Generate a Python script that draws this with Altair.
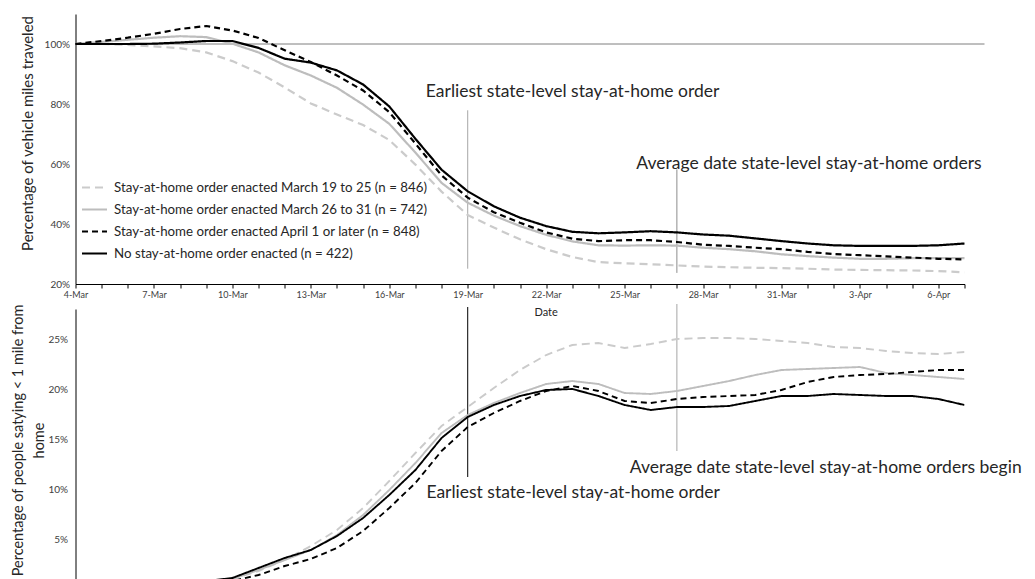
import json
import altair as alt
import pandas as pd

# ---------------- data ----------------
day_index = list(range(35))  # 0 = 4-Mar ... 34 = 7-Apr
tick_days = list(range(0, 34, 3))
tick_labels = ["4-Mar", "7-Mar", "10-Mar", "13-Mar", "16-Mar", "19-Mar",
               "22-Mar", "25-Mar", "28-Mar", "31-Mar", "3-Apr", "6-Apr"]

series_names = [
    "Stay-at-home order enacted March 19 to 25 (n = 846)",
    "Stay-at-home order enacted March 26 to 31 (n = 742)",
    "Stay-at-home order enacted April 1 or later (n = 848)",
    "No stay-at-home order enacted (n = 422)",
]
series_colors = ["#cbcbcb", "#bdbdbd", "#000000", "#000000"]
series_dashes = [[8, 5], [1, 0], [6, 4], [1, 0]]

# Percentage of vehicle miles traveled
vmt_mar19_25 = [100, 100, 99.7, 99.2, 98.6, 97.2, 94.3, 90.5, 85.5, 80.2, 76.5, 73.0,
                68.0, 59.8, 50.8, 43.0, 38.8, 34.9, 31.6, 29.0, 27.3, 26.9, 26.6, 26.2,
                25.8, 25.6, 25.4, 25.3, 25.1, 24.8, 24.7, 24.6, 24.5, 24.3, 23.9]
vmt_mar26_31 = [100, 100.7, 101.4, 102.1, 102.6, 102.3, 100.1, 97.2, 92.9, 89.5, 85.4, 79.8,
                73.4, 63.8, 53.7, 47.1, 42.8, 39.3, 36.4, 34.2, 32.9, 32.8, 32.9, 32.8,
                32.1, 31.6, 30.9, 29.9, 29.3, 28.8, 28.4, 28.4, 28.6, 28.6, 28.6]
vmt_apr1_later = [100, 101.0, 102.1, 103.4, 105.0, 106.0, 104.5, 102.0, 97.9, 94.0, 89.5, 84.5,
                  77.3, 66.8, 56.2, 48.8, 43.9, 40.4, 37.2, 35.1, 34.3, 34.6, 34.6, 34.0,
                  33.1, 32.7, 32.1, 31.6, 30.7, 30.0, 29.6, 29.2, 28.8, 28.4, 28.2]
vmt_no_order = [100, 100, 100, 100.1, 100.5, 101.0, 101.0, 98.7, 95.1, 93.8, 91.2, 86.5,
                79.2, 68.4, 58.1, 50.9, 45.9, 42.1, 39.3, 37.4, 36.9, 37.2, 37.6, 37.2,
                36.5, 36.1, 35.2, 34.3, 33.5, 32.9, 32.7, 32.7, 32.7, 32.9, 33.5]

# Percentage of people staying < 1 mile from home
home_mar19_25 = [0.0, 0.1, 0.2, 0.3, 0.5, 0.7, 1.0, 1.8, 2.9, 4.3, 5.9, 8.1,
                 10.8, 13.6, 16.3, 18.2, 20.1, 21.9, 23.4, 24.4, 24.6, 24.1, 24.5, 25.0,
                 25.1, 25.1, 25.0, 24.8, 24.6, 24.2, 24.1, 23.8, 23.6, 23.5, 23.7]
home_mar26_31 = [0.0, 0.1, 0.2, 0.3, 0.5, 0.7, 1.0, 1.9, 2.9, 3.9, 5.4, 7.4,
                 9.9, 12.6, 15.6, 17.4, 18.6, 19.6, 20.5, 20.8, 20.5, 19.6, 19.5, 19.8,
                 20.3, 20.8, 21.4, 21.9, 22.0, 22.1, 22.2, 21.6, 21.4, 21.2, 21.0]
home_apr1_later = [0.0, 0.05, 0.15, 0.25, 0.4, 0.6, 0.8, 1.4, 2.3, 3.0, 4.1, 5.8,
                   8.1, 10.6, 13.8, 16.2, 17.6, 18.8, 19.8, 20.3, 19.8, 18.8, 18.6, 19.0,
                   19.2, 19.3, 19.4, 19.9, 20.7, 21.2, 21.4, 21.5, 21.7, 21.9, 21.9]
home_no_order = [0.0, 0.1, 0.2, 0.35, 0.55, 0.8, 1.1, 2.1, 3.1, 3.9, 5.3, 7.1,
                 9.4, 11.9, 15.1, 17.2, 18.4, 19.3, 19.9, 20.0, 19.3, 18.4, 17.9, 18.2,
                 18.2, 18.3, 18.8, 19.3, 19.3, 19.5, 19.4, 19.3, 19.3, 19.0, 18.4]

# reference lines (day, from, to, colour)
top_rule_day = [15, 23]
top_rule_from = [77.9, 58.2]
top_rule_to = [25.1, 23.7]
top_rule_color = ["#a6a6a6", "#8c8c8c"]
bot_rule_day = [15, 23]
bot_rule_from = [28.2, 28.5]
bot_rule_to = [11.2, 13.8]
bot_rule_color = ["#000000", "#a6a6a6"]

# annotations
top_notes = ["Earliest state-level stay-at-home order",
             "Average date state-level stay-at-home orders"]
top_note_day = [13.4, 21.45]
top_note_val = [83.9, 59.9]
bot_notes = ["Earliest state-level stay-at-home order",
             "Average date state-level stay-at-home orders begin"]
bot_note_day = [13.42, 21.2]
bot_note_val = [9.6, 12.1]

FONT = "Lato"

# ---------------- tables ----------------
def long_table(cols):
    rows = []
    for name, vals in zip(series_names, cols):
        for d, v in zip(day_index, vals):
            rows.append({"day": d, "v": v, "series": name})
    return pd.DataFrame(rows)

top_df = long_table([vmt_mar19_25, vmt_mar26_31, vmt_apr1_later, vmt_no_order])
bot_df = long_table([home_mar19_25, home_mar26_31, home_apr1_later, home_no_order])

day_labels = [""] * len(day_index)
for d, lab in zip(tick_days, tick_labels):
    day_labels[d] = lab
label_expr = json.dumps(day_labels) + "[datum.value]"

W = 889
TOP_H = 270
BOT_H = 280

x_top = alt.X("day:Q", scale=alt.Scale(domain=[0, 34], nice=False, zero=False),
              axis=alt.Axis(values=day_index, labelExpr=label_expr, title=None,
                            grid=False, tickSize=4, tickColor="#000000", domainColor="#000000",
                            labelFont=FONT, labelFontSize=9, labelColor="#404040",
                            labelPadding=2, labelOverlap=False, labelFlush=False))
y_top = alt.Y("v:Q", scale=alt.Scale(domain=[20, 110], nice=False, zero=False),
              axis=alt.Axis(values=[20, 40, 60, 80, 100], labelExpr="datum.value + '%'",
                            grid=False, ticks=False, domainColor="#000000",
                            labelFont=FONT, labelFontSize=10, labelColor="#404040", labelPadding=6,
                            title="Percentage of vehicle miles traveled", titleFont=FONT,
                            titleFontSize=15, titleFontWeight="normal", titleColor="#262626",
                            titleX=-48.5, titleY=119, titleBaseline="middle"))

leg = alt.Legend(orient="none", legendX=5.5, legendY=160, title=None, symbolType="stroke",
                 symbolSize=625, symbolStrokeWidth=2, labelFont=FONT, labelFontSize=13.3,
                 labelColor="#262626", rowPadding=2, labelOffset=6, padding=0, labelLimit=0)
color_top = alt.Color("series:N", scale=alt.Scale(domain=series_names, range=series_colors), legend=leg)
dash_top = alt.StrokeDash("series:N", scale=alt.Scale(domain=series_names, range=series_dashes), legend=leg)

hundred = alt.Chart(pd.DataFrame({"v": [100]})).mark_rule(color="#7f7f7f", strokeWidth=1).encode(
    y=y_top, x=alt.value(0), x2=alt.value(909))
top_rules = alt.Chart(pd.DataFrame({"day": top_rule_day, "v": top_rule_from, "v2": top_rule_to,
                                    "c": top_rule_color})).mark_rule(strokeWidth=1).encode(
    x=x_top, y=y_top, y2="v2:Q", color=alt.Color("c:N", scale=None))
top_lines = alt.Chart(top_df).mark_line(strokeWidth=2.2).encode(
    x=x_top, y=y_top, color=color_top, strokeDash=dash_top, order="day:Q")
top_text = alt.Chart(pd.DataFrame({"day": top_note_day, "v": top_note_val, "t": top_notes})).mark_text(
    align="left", baseline="middle", font=FONT, fontSize=17.5, color="#262626").encode(
    x=x_top, y=y_top, text="t:N")

top = alt.layer(hundred, top_rules, top_lines, top_text).properties(width=W, height=TOP_H)

x_bot = alt.X("day:Q", scale=alt.Scale(domain=[0, 34], nice=False, zero=False), axis=None)
y_bot = alt.Y("v:Q", scale=alt.Scale(domain=[0, 28], nice=False, zero=False),
              axis=alt.Axis(values=[5, 10, 15, 20, 25], labelExpr="datum.value + '%'",
                            grid=False, ticks=False, domainColor="#000000",
                            labelFont=FONT, labelFontSize=10, labelColor="#404040", labelPadding=8,
                            title=["Percentage of people satying < 1 mile from", "home"],
                            titleFont=FONT, titleFontSize=14.5, titleFontWeight="normal",
                            titleColor="#262626", titleLineHeight=21,
                            titleX=-57.5, titleY=131, titleBaseline="middle"))
color_bot = alt.Color("series:N", scale=alt.Scale(domain=series_names, range=series_colors), legend=None)
dash_bot = alt.StrokeDash("series:N", scale=alt.Scale(domain=series_names, range=series_dashes), legend=None)

bot_rules = alt.Chart(pd.DataFrame({"day": bot_rule_day, "v": bot_rule_from, "v2": bot_rule_to,
                                    "c": bot_rule_color})).mark_rule(strokeWidth=1).encode(
    x=x_bot, y=y_bot, y2="v2:Q", color=alt.Color("c:N", scale=None))
bot_lines = alt.Chart(bot_df).mark_line(strokeWidth=1.9, clip=True).encode(
    x=x_bot, y=y_bot, color=color_bot, strokeDash=dash_bot, order="day:Q")
bot_text = alt.Chart(pd.DataFrame({"day": bot_note_day, "v": bot_note_val, "t": bot_notes})).mark_text(
    align="left", baseline="middle", font=FONT, fontSize=17.5, color="#262626").encode(
    x=x_bot, y=y_bot, text="t:N")
date_text = alt.Chart(pd.DataFrame({"day": [18.0], "v": [27.6], "t": ["Date"]})).mark_text(
    align="center", baseline="middle", font=FONT, fontSize=11, color="#262626").encode(
    x=x_bot, y=y_bot, text="t:N")

bottom = alt.layer(bot_rules, bot_lines, bot_text, date_text).properties(width=W, height=BOT_H)

chart = alt.vconcat(top, bottom, spacing=4).resolve_scale(
    color="independent", strokeDash="independent").resolve_legend(
    color="independent", strokeDash="independent").properties(
    padding={"left": 1.5, "top": 6, "right": 0, "bottom": 0}).configure_view(stroke=None)

chart.save("out.html", embed_options={"renderer": "svg", "actions": False})
